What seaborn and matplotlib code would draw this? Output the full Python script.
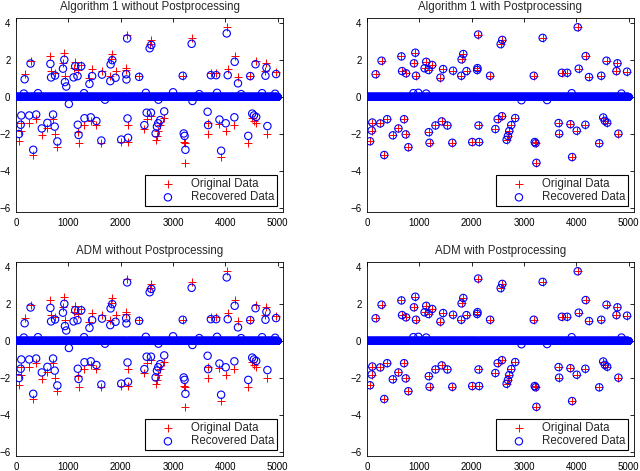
import numpy as np
import seaborn as sns
import matplotlib
matplotlib.use("Agg")
import matplotlib.pyplot as plt

n_samples = 5000

# nonzero entries of the sparse signal (index, original value, recovered w/o postprocessing)
spike_idx = [57, 89, 101, 165, 253, 278, 329, 385, 493, 600, 657, 670, 708, 739, 746, 790,
             897, 923, 935, 1100, 1131, 1175, 1180, 1195, 1245, 1308, 1403, 1428, 1454, 1536,
             1630, 1643, 1801, 1807, 1839, 1901, 2010, 2104, 2110, 2123, 2130, 2140, 2351,
             2452, 2496, 2553, 2578, 2584, 2667, 2692, 2717, 2755, 2831, 3185, 3204, 3220,
             3236, 3355, 3660, 3670, 3722, 3823, 3886, 3918, 4006, 4025, 4044, 4171, 4177,
             4240, 4436, 4474, 4512, 4544, 4575, 4588, 4765, 4784, 4802, 4967]
orig_vals = [-2.39, -1.81, -1.38, 1.22, -1.43, 1.95, -3.13, -1.20, -2.07, -1.70, 2.18, 1.39,
             -1.20, -2.02, 1.27, -2.71, 1.81, 2.38, 1.14, 1.54, 1.89, 1.45, -1.90, -2.47, 1.72,
             -1.54, 1.04, -1.32, 1.50, -1.54, -2.47, 1.41, 1.14, 2.02, 2.31, 1.39, -2.43, 1.45,
             1.55, 3.36, -1.54, -2.43, 1.14, -1.73, -1.20, 2.84, -1.04, 3.07, -2.31, -2.11,
             -1.84, -1.52, -1.14, 1.14, -2.43, -2.50, -3.55, 3.18, -1.41, -1.98, 1.30, 1.30,
             -1.47, -3.24, -1.82, 3.75, 1.52, -1.50, 2.20, 1.07, -2.50, 1.14, -1.11, -1.29,
             1.95, -1.39, 1.39, 1.81, -1.98, 1.36]
rec_nopp_vals = [-2.0, -1.5, -1.0, 0.95, -1.0, 1.8, -2.85, -0.95, -1.7, -1.4, 1.78, 1.05,
                 -0.95, -1.6, 1.15, -2.4, 1.52, 2.0, 0.8, 1.05, 1.65, 1.12, -1.5, -2.05, 1.65,
                 -1.15, 0.7, -1.1, 1.12, -1.3, -2.35, 1.2, 0.85, 1.75, 1.98, 1.03, -2.3, 1.22,
                 0.94, 3.15, -1.16, -2.2, 1.08, -1.52, -0.85, 2.62, -0.85, 2.8, -1.97, -1.6,
                 -1.42, -1.25, -0.78, 1.14, -1.97, -2.1, -2.85, 2.86, -0.8, -1.52, 1.17, 1.17,
                 -1.22, -2.9, -1.42, 3.42, 1.17, -1.1, 1.89, 0.73, -2.1, 1.12, -0.9, -1.0,
                 1.76, -1.08, 1.14, 1.57, -1.57, 1.23]

# small spurious entries in the recovered signals
extra_nopp_idx = [150, 420, 960, 1010, 1300, 1700, 2480, 2720, 3000, 3370, 3500, 3840, 4300, 4700, 4950]
extra_nopp_vals = [0.18, 0.2, 0.56, -0.38, 0.2, -0.15, 0.22, -0.15, 0.25, -0.22, 0.15, 0.22, 0.15, 0.2, 0.17]
extra_pp_idx = [885, 980, 1130, 2950, 3440, 3910, 4860]
extra_pp_vals = [0.2, 0.22, 0.18, -0.18, -0.17, 0.2, 0.18]

panel_titles = ["Algorithm 1 without Postprocessing", "Algorithm 1 with Postprocessing",
                "ADM without Postprocessing", "ADM with Postprocessing"]

idx = np.arange(1, n_samples + 1)
orig = np.zeros(n_samples)
orig[np.array(spike_idx) - 1] = orig_vals
rec_nopp = np.zeros(n_samples)
rec_nopp[np.array(spike_idx) - 1] = rec_nopp_vals
rec_nopp[np.array(extra_nopp_idx) - 1] = extra_nopp_vals
rec_pp = orig.copy()
rec_pp[np.array(extra_pp_idx) - 1] = extra_pp_vals
recovered = [rec_nopp, rec_pp, rec_nopp, rec_pp]

# red crosses at zero are hidden under the blue band in the original
nz = orig != 0

sns.set_style("white")
plt.rcParams["font.family"] = ["Liberation Sans", "DejaVu Sans"]

fig = plt.figure(figsize=(6.4, 4.71), dpi=100)
W, H = 640, 471
rects = [(16, 18), (367, 18), (16, 262), (367, 262)]

for (px, py), title, rec in zip(rects, panel_titles, recovered):
    ax = fig.add_axes([px / W, 1 - (py + 194) / H, 267 / W, 194 / H])
    zero = rec == 0
    sns.scatterplot(x=idx[nz], y=orig[nz], marker="+", color="red", s=30, linewidth=0.7,
                    ax=ax, label="Original Data", zorder=2)
    # thousands of overlapping circles at zero merge into a solid band
    sns.scatterplot(x=idx[zero], y=rec[zero], marker="o", s=8, color="blue",
                    facecolors="none", edgecolor="blue", linewidth=2.9, ax=ax, zorder=3)
    sns.scatterplot(x=idx[~zero], y=rec[~zero], marker="o", s=28, color="blue",
                    facecolors="none", edgecolor="blue", linewidth=0.8, ax=ax,
                    label="Recovered Data", zorder=3)
    ax.set_xlim(0, 5100)
    ax.set_ylim(-6.2, 4.25)
    ax.set_xticks([0, 1000, 2000, 3000, 4000, 5000])
    ax.set_yticks([-6, -4, -2, 0, 2, 4])
    ax.set_xlabel("")
    ax.set_ylabel("")
    ax.tick_params(direction="in", top=True, right=True, length=3, width=0.6,
                   labelsize=7, pad=4, colors="black")
    for sp in ax.spines.values():
        sp.set_color("black")
        sp.set_linewidth(0.6)
    ax.set_title(title, fontsize=8.3, pad=6)
    leg = ax.legend(loc="lower right", fontsize=8.3, frameon=True, fancybox=False,
                    framealpha=1, edgecolor="black", borderpad=0.25, labelspacing=0.15,
                    handlelength=3.4, handletextpad=0.3, borderaxespad=0.5)
    leg.get_frame().set_linewidth(0.8)

fig.savefig("out.png", dpi=100)
